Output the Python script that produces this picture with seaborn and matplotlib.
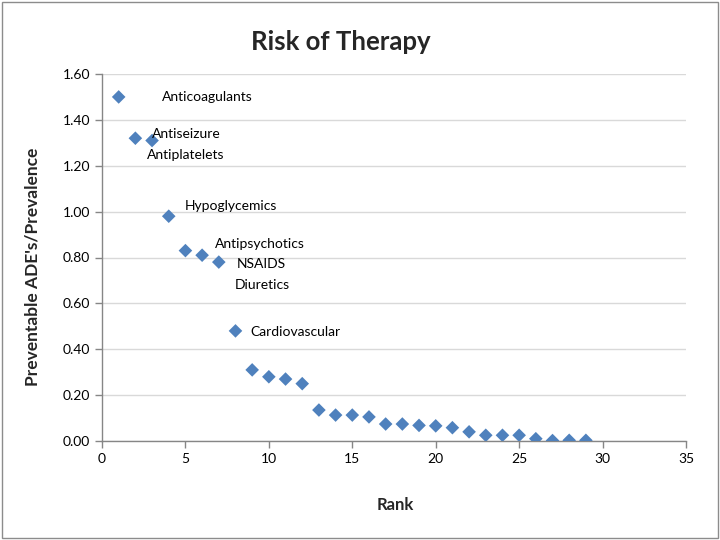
import pandas as pd
import seaborn as sns
import matplotlib.pyplot as plt
from matplotlib.patches import Rectangle

rank = list(range(1, 30))
ratio = [1.50, 1.32, 1.31, 0.98, 0.83, 0.81, 0.78, 0.48, 0.31, 0.28,
         0.27, 0.25, 0.135, 0.113, 0.113, 0.105, 0.074, 0.074, 0.068, 0.066,
         0.058, 0.040, 0.025, 0.025, 0.025, 0.010, 0.002, 0.003, 0.003]

label_rank = [1, 2, 3, 4, 5, 6, 7, 8]
label_text = ['Anticoagulants', 'Antiseizure', 'Antiplatelets', 'Hypoglycemics',
              'Antipsychotics', 'NSAIDS', 'Diuretics', 'Cardiovascular']
# pixel offsets of each label from its point
label_dx = [43, 17, -5, 16, 30, 35, 16, 15]
label_dy = [0, 4, -14, 10, 7, -9, -23, -1]

df = pd.DataFrame({'Rank': rank, 'Ratio': ratio})

sns.set_style('white')
plt.rcParams['font.family'] = ['Lato', 'DejaVu Sans']

fig = plt.figure(figsize=(7.2, 5.4), dpi=100)
ax = fig.add_axes([102 / 720, 1 - 441 / 540, (686 - 102) / 720, (441 - 74) / 540])

ax.yaxis.grid(True, color='#d9d9d9', linewidth=1)
ax.set_axisbelow(True)
sns.scatterplot(data=df, x='Rank', y='Ratio', marker='D', s=48, color='#4F81BD',
                edgecolor='none', ax=ax, zorder=3)

for r, t, dx, dy in zip(label_rank, label_text, label_dx, label_dy):
    ax.annotate(t, (r, ratio[r - 1]), xytext=(dx, dy), textcoords='offset pixels',
                ha='left', va='center', fontsize=10, color='black')

ax.set_xlim(0, 35)
ax.set_ylim(0, 1.6)
ax.set_xticks(range(0, 36, 5))
ax.set_yticks([i * 0.2 for i in range(9)])
ax.set_yticklabels(['%.2f' % (i * 0.2) for i in range(9)])
ax.tick_params(axis='both', labelsize=10, colors='#868686', length=5, width=1,
               direction='out', bottom=True, left=True)
ax.tick_params(axis='both', labelcolor='black')
for side in ['top', 'right']:
    ax.spines[side].set_visible(False)
for side in ['left', 'bottom']:
    ax.spines[side].set_color('#868686')
    ax.spines[side].set_linewidth(1)
ax.set_xlabel('')
ax.set_ylabel('')

fig.text(341 / 720, 1 - 42 / 540, 'Risk of Therapy', ha='center', va='center',
         fontsize=18.5, fontweight='bold')
fig.text(395 / 720, 1 - 505 / 540, 'Rank', ha='center', va='center',
         fontsize=12, fontweight='bold')
fig.text(33 / 720, 1 - 267 / 540, "Preventable ADE's/Prevalence", ha='center',
         va='center', rotation=90, fontsize=12.5, fontweight='bold')

fig.patches.append(Rectangle((0.003, 0.004), 0.994, 0.992, transform=fig.transFigure,
                             fill=False, edgecolor='#8c8c8c', linewidth=1))

fig.savefig('out.png', dpi=100)
